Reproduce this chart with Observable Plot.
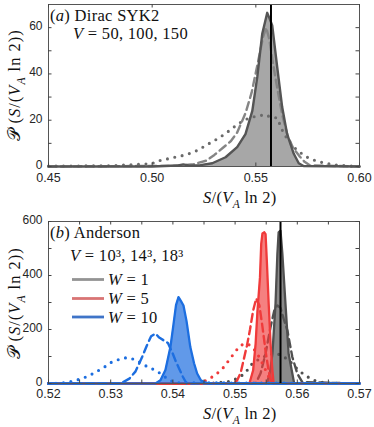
<!DOCTYPE html>
<html><head><meta charset="utf-8">
<script src="https://cdn.jsdelivr.net/npm/d3@7"></script>
<script src="https://cdn.jsdelivr.net/npm/@observablehq/plot@0.6"></script>
<style>body{margin:0;background:#fff} #c{width:374px} svg{display:block}</style>
</head><body><div id="c"></div>
<script>
// ---------- panel (a) Dirac SYK2 ----------
const critValue = 0.5573;
const sykSolidX = [0.45, 0.50, 0.512, 0.515, 0.518, 0.5233, 0.529, 0.5354, 0.541, 0.545, 0.5483, 0.5507, 0.5531, 0.5555, 0.5566, 0.5579, 0.5603, 0.5627, 0.5651, 0.5683, 0.5707, 0.573, 0.60];
const sykSolidY = [0, 0, 0.4, 0.9, 0.4, 0.6, 1.4, 4, 8.4, 14, 24, 38.7, 57.4, 66.4, 64, 61, 43, 25.7, 14, 5.5, 1.4, 0.2, 0];
const sykDashX = [0.45, 0.512, 0.52, 0.526, 0.530, 0.534, 0.538, 0.541, 0.545, 0.548, 0.551, 0.5535, 0.555, 0.5565, 0.558, 0.5603, 0.5628, 0.5653, 0.568, 0.571, 0.5735, 0.576, 0.60];
const sykDashY = [0, 0.3, 1, 2.5, 5, 8, 11, 14.7, 23, 32, 45, 56, 60, 55, 46, 34, 22, 13.4, 8, 4.5, 2, 0.5, 0];
const sykDotX = [0.45, 0.48, 0.50, 0.5016, 0.5056, 0.5097, 0.5137, 0.5177, 0.5217, 0.5266, 0.5306, 0.535, 0.5394, 0.5425, 0.5459, 0.549, 0.5523, 0.5545, 0.5571, 0.5603, 0.5635, 0.566, 0.5683, 0.5715, 0.5748, 0.578, 0.5812, 0.5875, 0.595, 0.60];
const sykDotY = [0.2, 0.3, 1.2, 2.2, 2.9, 3.8, 4.5, 5.5, 6.9, 9.5, 11.5, 14, 17, 19, 20.6, 21.5, 22, 22.5, 21.3, 21, 14.1, 11, 8.4, 6, 4, 2.8, 1.9, 0.7, 0.2, 0];
const aXLabelTicks = [0.45, 0.50, 0.55, 0.60];
const aXTicks = [0.45, 0.50, 0.55, 0.60];
const aYLabelTicks = [0, 20, 40, 60];
const aYTicks = [0, 10, 20, 30, 40, 50, 60];

// ---------- panel (b) Anderson ----------
const w1SolidX = [0.52, 0.5551, 0.5556, 0.556, 0.5565, 0.5568, 0.557, 0.5573, 0.5576, 0.5581, 0.5586, 0.5592, 0.5595, 0.57];
const w1SolidY = [0, 0, 40, 111, 295, 480, 560, 566, 480, 295, 111, 37, 0, 0];
const w1DashX = [0.52, 0.5533, 0.5541, 0.5549, 0.5557, 0.5563, 0.5568, 0.5573, 0.5578, 0.5584, 0.5592, 0.56, 0.5608, 0.57];
const w1DashY = [0, 0, 38, 111, 209, 270, 289, 280, 240, 197, 98, 37, 5, 0];
const w1DotX = [0.52, 0.546, 0.5476, 0.5492, 0.5504, 0.5516, 0.5525, 0.5535, 0.5545, 0.5557, 0.5567, 0.5578, 0.5589, 0.5602, 0.5614, 0.5627, 0.5643, 0.566, 0.57];
const w1DotY = [0, 0, 4, 8, 20, 37, 68, 85, 98, 108, 111, 100, 80, 49, 28, 12, 3, 0, 0];

const w5SolidX = [0.52, 0.5523, 0.5529, 0.5533, 0.5536, 0.554, 0.5542, 0.5544, 0.5547, 0.5549, 0.5551, 0.5554, 0.5557, 0.556, 0.5562, 0.57];
const w5SolidY = [0, 0, 49, 148, 270, 393, 517, 556, 560, 553, 455, 295, 148, 49, 0, 0];
const w5DashX = [0.52, 0.5495, 0.5503, 0.5509, 0.5514, 0.5519, 0.5524, 0.5529, 0.5534, 0.5539, 0.5544, 0.5549, 0.5554, 0.5559, 0.57];
const w5DashY = [0, 0, 10, 40, 90, 140, 200, 270, 315, 290, 210, 120, 45, 0, 0];
const w5DotX = [0.52, 0.5445, 0.5458, 0.5468, 0.5482, 0.5498, 0.5508, 0.5519, 0.5528, 0.5537, 0.5546, 0.5553, 0.556, 0.57];
const w5DotY = [0, 0, 18, 30, 61, 111, 141, 148, 135, 105, 65, 30, 0, 0];

const w10SolidX = [0.52, 0.5372, 0.538, 0.5388, 0.5396, 0.5401, 0.5405, 0.5409, 0.5413, 0.5417, 0.5422, 0.5428, 0.5434, 0.5439, 0.5445, 0.5452, 0.5458, 0.57];
const w10SolidY = [0, 0, 12, 50, 135, 220, 290, 320, 305, 289, 230, 135, 75, 37, 12, 4, 0, 0];
const w10DashX = [0.52, 0.5315, 0.532, 0.533, 0.534, 0.535, 0.5358, 0.5365, 0.5372, 0.5378, 0.5385, 0.5392, 0.5399, 0.5405, 0.5411, 0.5416, 0.5422, 0.57];
const w10DashY = [0, 0, 5, 18, 45, 95, 140, 175, 185, 170, 160, 150, 115, 80, 50, 25, 0, 0];
const w10DotX = [0.52, 0.5215, 0.523, 0.524, 0.5254, 0.5267, 0.5278, 0.529, 0.5302, 0.5315, 0.5326, 0.534, 0.5356, 0.5366, 0.5375, 0.5385, 0.5395, 0.5405, 0.57];
const w10DotY = [0, 1, 4, 10, 18, 31, 45, 61, 80, 90, 96, 88, 66, 55, 45, 28, 12, 3, 0];

const bXLabelTicks = [0.52, 0.53, 0.54, 0.55, 0.56, 0.57];
const bXTicks = [0.52, 0.525, 0.53, 0.535, 0.54, 0.545, 0.55, 0.555, 0.56, 0.565, 0.57];
const bYLabelTicks = [0, 200, 400, 600];
const bYTicks = [0, 100, 200, 300, 400, 500, 600];
const legendLabels = ["1", "5", "10"];

// ---------- colours ----------
const C = {
  grayFillA: "#a7a7a7", grayLine: "#555555", grayDash: "#858585", grayDot: "#6a6a6a",
  gray: "#505050", grayFill: "rgba(90,90,90,0.7)",
  red: "#f03a3a", redFill: "rgba(240,60,60,0.65)",
  blue: "#1c6ee0", blueFill: "rgba(30,110,224,0.7)"
};
const legendColors = ["#939393", "#d97474", "#3f74c8"];

const pts = (xs, ys) => xs.map((x, i) => ({x, y: ys[i]}));
const dot = (data, stroke) => Plot.line(data, {x: "x", y: "y", stroke, strokeWidth: 3.1, strokeDasharray: "0,7.5", strokeLinecap: "round"});
const dash = (data, stroke) => Plot.line(data, {x: "x", y: "y", stroke, strokeWidth: 2.4, strokeDasharray: "8,4.5"});
const solid = (data, stroke, fill) => [
  Plot.areaY(data, {x: "x", y: "y", fill}),
  Plot.line(data, {x: "x", y: "y", stroke, strokeWidth: 2.3})
];

function panel({height, marginTop, xPad, xDomain, yDomain, xLabelTicks, xTicks, yLabelTicks, yTicks, marks}) {
  const ml = 48, mr = 15, mb = 44;
  const pw = 374 - ml - mr, ph = height - marginTop - mb;
  const tc = "#444";
  return Plot.plot({
    width: 374, height, marginLeft: ml, marginRight: mr, marginTop, marginBottom: mb,
    style: {fontFamily: "'Liberation Sans', Arial, sans-serif", fontSize: "12px", color: "#262626", background: "#fff", overflow: "visible"},
    x: {domain: xDomain, label: null},
    y: {domain: yDomain, label: null},
    marks: [
      ...marks,
      Plot.ruleX([critValue], {stroke: "black", strokeWidth: 2}),
      Plot.frame({stroke: "#555", strokeWidth: 1}),
      Plot.tickX(xTicks, {x: d => d, insetTop: ph - 3.5, stroke: tc}),
      Plot.tickX(xTicks, {x: d => d, insetBottom: ph - 3.5, stroke: tc}),
      Plot.tickY(yTicks, {y: d => d, insetRight: pw - 3.5, stroke: tc}),
      Plot.tickY(yTicks, {y: d => d, insetLeft: pw - 3.5, stroke: tc}),
      Plot.axisX({ticks: xLabelTicks, tickSize: 0, tickPadding: xPad, tickFormat: d3.format(".2f"), label: null, fontSize: 12.5, style: {letterSpacing: "0.9px"}}),
      Plot.axisY({ticks: yLabelTicks, tickSize: 0, tickPadding: 6, dy: -1.5, tickFormat: d3.format("d"), label: null})
    ]
  });
}

const SERIF = "'Liberation Serif', 'DejaVu Serif', serif";
function mathText(svg, x, y, parts, {size = 16.5, anchor = "start", rotate = false, ls = 0.3} = {}) {
  const t = svg.append("text")
    .attr("font-family", SERIF).attr("font-size", size).attr("fill", "#111")
    .attr("letter-spacing", ls).attr("text-anchor", anchor);
  if (rotate) t.attr("transform", `translate(${x},${y}) rotate(-90)`);
  else t.attr("x", x).attr("y", y);
  let shift = 0;
  for (const p of parts) {
    const s = t.append("tspan").text(p.t);
    if (p.i) s.attr("font-style", "italic");
    const target = p.sub ? 0.28 * size : 0;
    if (target !== shift) { s.attr("dy", target - shift); shift = target; }
    if (p.sub) s.attr("font-size", size * 0.7);
  }
  return t;
}
const xTitle = [{t: "S", i: 1}, {t: "/("}, {t: "V", i: 1}, {t: "A", i: 1, sub: 1}, {t: " ln 2)"}];
const yTitle = [{t: "𝒫", i: 0}, {t: "\u2009("}, {t: "S", i: 1}, {t: "/("}, {t: "V", i: 1}, {t: "A", i: 1, sub: 1}, {t: " ln 2))"}];

// ---- build panel a ----
const pa = panel({
  height: 210, marginTop: 4, xPad: 7, xDomain: [0.45, 0.60], yDomain: [0, 70],
  xLabelTicks: aXLabelTicks, xTicks: aXTicks, yLabelTicks: aYLabelTicks, yTicks: aYTicks,
  marks: [
    Plot.areaY(pts(sykSolidX, sykSolidY), {x: "x", y: "y", fill: C.grayFillA}),
    dot(pts(sykDotX, sykDotY), C.grayDot),
    dash(pts(sykDashX, sykDashY), C.grayDash),
    Plot.line(pts(sykSolidX, sykSolidY), {x: "x", y: "y", stroke: C.grayLine, strokeWidth: 2.4})
  ]
});
{
  const s = d3.select(pa);
  mathText(s, 50, 21, [{t: "("}, {t: "a", i: 1}, {t: ") Dirac SYK2"}]);
  mathText(s, 73, 39, [{t: "V", i: 1}, {t: " = 50, 100, 150"}]);
  mathText(s, 203, 203, xTitle);
  mathText(s, 20, 85, yTitle, {anchor: "middle", rotate: true, size: 16.5, ls: 1});
}

// ---- build panel b ----
const pb = panel({
  height: 217, marginTop: 11, xPad: 6, xDomain: [0.52, 0.57], yDomain: [0, 600],
  xLabelTicks: bXLabelTicks, xTicks: bXTicks, yLabelTicks: bYLabelTicks, yTicks: bYTicks,
  marks: [
    dot(pts(w1DotX, w1DotY), C.gray),
    dash(pts(w1DashX, w1DashY), C.gray),
    ...solid(pts(w1SolidX, w1SolidY), C.gray, C.grayFill),
    dot(pts(w5DotX, w5DotY), C.red),
    dash(pts(w5DashX, w5DashY), C.red),
    ...solid(pts(w5SolidX, w5SolidY), C.red, C.redFill),
    dot(pts(w10DotX, w10DotY), C.blue),
    dash(pts(w10DashX, w10DashY), C.blue),
    ...solid(pts(w10SolidX, w10SolidY), C.blue, C.blueFill)
  ]
});
{
  const s = d3.select(pb);
  mathText(s, 50, 28, [{t: "("}, {t: "b", i: 1}, {t: ") Anderson"}]);
  mathText(s, 70, 51, [{t: "V", i: 1}, {t: " = 10³, 14³, 18³"}]);
  const ly = [69.5, 88.5, 107];
  legendLabels.forEach((lab, i) => {
    s.append("line").attr("x1", 72).attr("x2", 104).attr("y1", ly[i]).attr("y2", ly[i])
      .attr("stroke", legendColors[i]).attr("stroke-width", 2.8);
    mathText(s, 108, ly[i] + 5.5, [{t: "W", i: 1}, {t: " = " + lab}]);
  });
  mathText(s, 203, 209, xTitle);
  mathText(s, 20, 93, yTitle, {anchor: "middle", rotate: true, size: 16.5, ls: 1});
}
document.getElementById("c").append(pa, pb);
</script></body></html>
